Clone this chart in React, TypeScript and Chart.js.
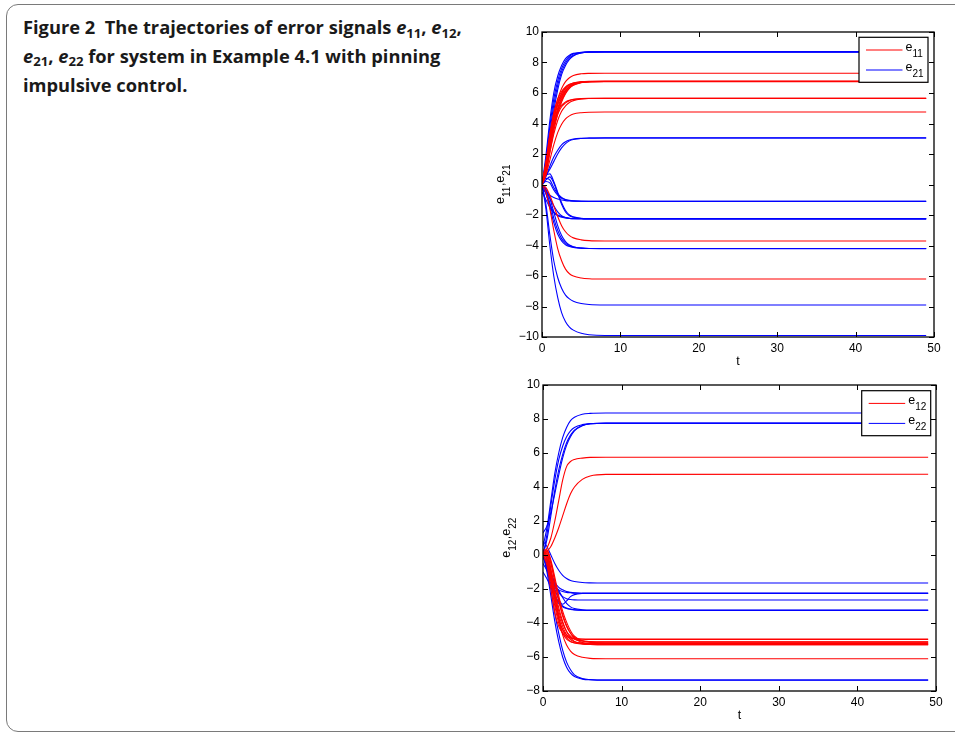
import React, { useEffect, useRef } from 'react';
import { Chart, registerables } from 'chart.js';
Chart.register(...registerables);

// time grid (t) shared by every trajectory
const T = [0, 0.5, 1, 1.5, 2, 2.5, 3, 3.5, 4, 5, 6, 8, 49];

const xTicks = [0, 10, 20, 30, 40, 50];
const yTicksTop = [-10, -8, -6, -4, -2, 0, 2, 4, 6, 8, 10];
const yTicksBottom = [-8, -6, -4, -2, 0, 2, 4, 6, 8, 10];

// e11 trajectories (red, top panel)
const e11 = [
  [0, 1.4, 3.2, 4.6, 5.6, 6.3, 6.75, 7.0, 7.15, 7.26, 7.29, 7.3, 7.3],
  [0, 1.5, 3.3, 4.7, 5.6, 6.1, 6.4, 6.57, 6.66, 6.73, 6.75, 6.75, 6.75],
  [0, 1.2, 2.9, 4.3, 5.3, 5.9, 6.3, 6.5, 6.62, 6.72, 6.75, 6.76, 6.76],
  [0, 1.0, 2.6, 4.0, 5.0, 5.7, 6.15, 6.42, 6.58, 6.71, 6.74, 6.75, 6.75],
  [0, 0.8, 2.3, 3.7, 4.8, 5.5, 6.0, 6.33, 6.52, 6.69, 6.74, 6.76, 6.76],
  [0, 1.3, 3.0, 4.4, 5.4, 6.0, 6.35, 6.55, 6.65, 6.73, 6.76, 6.77, 6.77],
  [0, 0.9, 2.5, 3.9, 4.9, 5.6, 6.1, 6.4, 6.56, 6.7, 6.74, 6.74, 6.74],
  [0.1, 1.1, 2.8, 4.2, 5.2, 5.8, 6.2, 6.45, 6.6, 6.71, 6.75, 6.75, 6.75],
  [0, 0.7, 2.1, 3.5, 4.6, 5.4, 5.95, 6.3, 6.5, 6.68, 6.73, 6.75, 6.75],
  [0, 1.1, 2.6, 3.8, 4.6, 5.1, 5.35, 5.5, 5.57, 5.63, 5.65, 5.65, 5.65],
  [0, 0.8, 2.1, 3.3, 4.2, 4.8, 5.15, 5.38, 5.5, 5.61, 5.64, 5.66, 5.66],
  [0, 1.3, 2.9, 4.0, 4.8, 5.2, 5.42, 5.53, 5.59, 5.63, 5.64, 5.64, 5.64],
  [0, 0.6, 1.6, 2.6, 3.4, 3.95, 4.3, 4.5, 4.62, 4.71, 4.74, 4.75, 4.75],
  [0, -0.2, -0.7, -1.4, -2.1, -2.7, -3.1, -3.35, -3.5, -3.63, -3.68, -3.7, -3.7],
  [0, -0.5, -1.6, -3.0, -4.2, -5.0, -5.55, -5.85, -6.0, -6.13, -6.18, -6.2, -6.2],
];

// e21 trajectories (blue, top panel)
const e21 = [
  [0, 1.6, 3.8, 5.6, 6.8, 7.6, 8.1, 8.4, 8.55, 8.66, 8.7, 8.7, 8.7],
  [0, 1.4, 3.4, 5.2, 6.5, 7.4, 7.95, 8.3, 8.48, 8.63, 8.68, 8.71, 8.71],
  [0, 1.1, 3.0, 4.8, 6.2, 7.2, 7.8, 8.2, 8.43, 8.62, 8.68, 8.7, 8.7],
  [0, 1.9, 4.2, 6.0, 7.1, 7.8, 8.25, 8.48, 8.6, 8.67, 8.7, 8.7, 8.7],
  [0, 0.5, 1.2, 1.8, 2.25, 2.6, 2.8, 2.92, 2.98, 3.03, 3.05, 3.05, 3.05],
  [0.3, 0.6, 1.0, 1.5, 2.0, 2.4, 2.68, 2.86, 2.95, 3.02, 3.04, 3.06, 3.06],
  [0, 0.4, 0.3, -0.2, -0.6, -0.85, -0.98, -1.04, -1.07, -1.1, -1.1, -1.1, -1.1],
  [-0.3, -0.5, -0.7, -0.85, -0.95, -1.02, -1.06, -1.08, -1.09, -1.1, -1.1, -1.1, -1.1],
  [0, 0.2, 0.1, -0.35, -0.7, -0.9, -1.0, -1.05, -1.08, -1.1, -1.11, -1.11, -1.11],
  [0, 0.6, 0.7, 0.2, -0.5, -1.2, -1.7, -2.0, -2.12, -2.22, -2.24, -2.25, -2.25],
  [0, 0.3, 0.5, 0.1, -0.6, -1.3, -1.8, -2.05, -2.15, -2.23, -2.25, -2.25, -2.25],
  [0, -0.4, -0.9, -1.4, -1.8, -2.05, -2.17, -2.22, -2.24, -2.25, -2.25, -2.25, -2.25],
  [0, -0.6, -1.3, -1.8, -2.0, -2.1, -2.17, -2.21, -2.23, -2.25, -2.25, -2.25, -2.25],
  [-0.5, -1.0, -1.5, -1.85, -2.05, -2.15, -2.2, -2.23, -2.24, -2.25, -2.26, -2.26, -2.26],
  [0, -0.4, -1.2, -2.2, -3.0, -3.55, -3.85, -4.02, -4.1, -4.17, -4.2, -4.2, -4.2],
  [0, -0.3, -0.9, -1.8, -2.7, -3.35, -3.75, -3.97, -4.08, -4.17, -4.2, -4.21, -4.21],
  [0, -0.6, -1.5, -2.5, -3.25, -3.7, -3.95, -4.07, -4.13, -4.18, -4.2, -4.2, -4.2],
  [0, -1.3, -3.3, -5.0, -6.1, -6.8, -7.25, -7.5, -7.65, -7.8, -7.87, -7.9, -7.9],
  [0, -1.6, -4.0, -6.0, -7.4, -8.4, -9.0, -9.35, -9.55, -9.76, -9.85, -9.9, -9.9],
];

// e12 trajectories (red, bottom panel)
const e12 = [
  [0, 0.4, 1.0, 2.0, 3.2, 4.4, 5.2, 5.5, 5.62, 5.7, 5.74, 5.75, 5.75],
  [0, 0.2, 0.5, 1.0, 1.6, 2.3, 3.0, 3.6, 4.0, 4.45, 4.65, 4.74, 4.75],
  [0, -0.6, -2.0, -3.4, -4.2, -4.6, -4.8, -4.88, -4.92, -4.94, -4.94, -4.94, -4.94],
  [0.2, -0.2, -1.4, -2.8, -3.8, -4.4, -4.7, -4.85, -4.92, -4.96, -4.97, -4.97, -4.97],
  [0.1, 0.1, -0.9, -2.2, -3.3, -4.0, -4.5, -4.78, -4.95, -5.06, -5.09, -5.1, -5.1],
  [0, 0.2, -0.5, -1.6, -2.7, -3.6, -4.2, -4.6, -4.85, -5.05, -5.1, -5.12, -5.12],
  [0.3, 0.3, -0.3, -1.3, -2.4, -3.3, -3.95, -4.45, -4.78, -5.05, -5.14, -5.16, -5.16],
  [0, -0.4, -1.6, -3.0, -4.0, -4.6, -4.95, -5.1, -5.16, -5.2, -5.2, -5.2, -5.2],
  [0.1, 0.0, -1.1, -2.4, -3.5, -4.2, -4.7, -4.98, -5.1, -5.18, -5.21, -5.22, -5.22],
  [0.2, 0.25, -0.4, -1.5, -2.6, -3.5, -4.15, -4.6, -4.9, -5.15, -5.23, -5.25, -5.25],
  [0, -0.2, -1.3, -2.6, -3.7, -4.4, -4.85, -5.08, -5.18, -5.24, -5.26, -5.27, -5.27],
  [0.1, 0.1, -0.8, -2.0, -3.1, -3.9, -4.5, -4.88, -5.08, -5.22, -5.26, -5.28, -5.28],
  [0, -0.1, -1.0, -2.4, -3.7, -4.7, -5.3, -5.65, -5.85, -6.02, -6.08, -6.1, -6.1],
];

// e22 trajectories (blue, bottom panel)
const e22 = [
  [0.5, 1.6, 3.2, 4.8, 6.0, 6.9, 7.5, 7.9, 8.1, 8.28, 8.33, 8.35, 8.35],
  [0, 0.9, 2.3, 3.8, 5.0, 5.9, 6.6, 7.05, 7.35, 7.62, 7.72, 7.75, 7.75],
  [1.3, 1.7, 2.5, 3.6, 4.7, 5.7, 6.45, 6.95, 7.3, 7.6, 7.72, 7.76, 7.76],
  [0, 1.2, 2.9, 4.4, 5.6, 6.4, 6.95, 7.3, 7.5, 7.67, 7.73, 7.75, 7.75],
  [0.8, 0.5, 0.0, -0.5, -0.9, -1.2, -1.38, -1.5, -1.56, -1.62, -1.64, -1.65, -1.65],
  [0, -0.6, -1.3, -2.0, -2.6, -2.9, -2.7, -2.45, -2.33, -2.26, -2.25, -2.25, -2.25],
  [0, -0.5, -1.1, -1.6, -1.9, -2.05, -2.15, -2.2, -2.23, -2.25, -2.25, -2.25, -2.25],
  [-0.5, -0.9, -1.4, -1.8, -2.05, -2.15, -2.2, -2.22, -2.24, -2.25, -2.26, -2.26, -2.26],
  [0.3, -0.3, -1.0, -1.7, -2.2, -2.45, -2.57, -2.62, -2.64, -2.65, -2.65, -2.65, -2.65],
  [0, -0.6, -1.3, -1.9, -2.1, -2.5, -2.85, -3.05, -3.15, -3.22, -3.25, -3.25, -3.25],
  [0, -0.8, -1.7, -2.4, -2.85, -3.05, -3.15, -3.2, -3.23, -3.25, -3.25, -3.25, -3.25],
  [-1.0, -1.4, -1.9, -2.4, -2.75, -3.0, -3.12, -3.18, -3.22, -3.25, -3.26, -3.26, -3.26],
  [0, -1.0, -2.4, -3.9, -5.1, -6.0, -6.6, -6.95, -7.15, -7.3, -7.34, -7.35, -7.35],
  [0, -0.8, -2.0, -3.4, -4.6, -5.6, -6.3, -6.75, -7.05, -7.27, -7.33, -7.36, -7.36],
];

const RED = '#ff0000';
const BLUE = '#0000ff';
const FONT = '"Liberation Sans", Arial, Helvetica, sans-serif';

type Part = { t: string; sub?: boolean };

function drawParts(ctx: CanvasRenderingContext2D, parts: Part[], x: number, y: number, center: boolean) {
  const main = `12.5px ${FONT}`;
  const small = `10px ${FONT}`;
  let w = 0;
  parts.forEach((p) => {
    ctx.font = p.sub ? small : main;
    w += ctx.measureText(p.t).width;
  });
  let cx = center ? x - w / 2 : x;
  parts.forEach((p) => {
    ctx.font = p.sub ? small : main;
    ctx.fillText(p.t, cx, y + (p.sub ? 5.5 : 0));
    cx += ctx.measureText(p.t).width + (p.sub ? 0.5 : 0);
  });
}

const decoPlugin = {
  id: 'deco',
  afterDraw(chart: any, _args: any, opts: any) {
    const { ctx, chartArea: a } = chart;
    const xs = chart.scales.x;
    const ys = chart.scales.y;
    ctx.save();
    ctx.strokeStyle = '#000';
    ctx.lineWidth = 1;
    const L = 5;
    ctx.beginPath();
    xs.ticks.forEach((t: any) => {
      const p = Math.round(xs.getPixelForValue(t.value)) + 0.5;
      ctx.moveTo(p, a.bottom);
      ctx.lineTo(p, a.bottom - L);
      ctx.moveTo(p, a.top);
      ctx.lineTo(p, a.top + L);
    });
    ys.ticks.forEach((t: any) => {
      const p = Math.round(ys.getPixelForValue(t.value)) + 0.5;
      ctx.moveTo(a.left, p);
      ctx.lineTo(a.left + L, p);
      ctx.moveTo(a.right, p);
      ctx.lineTo(a.right - L, p);
    });
    ctx.stroke();
    ctx.lineWidth = 1.3;
    ctx.strokeRect(a.left, a.top, a.right - a.left, a.bottom - a.top);

    // legend
    const bw = 69;
    const bh = 45;
    const bx = a.right - opts.legendRight - bw;
    const by = a.top + opts.legendTop;
    ctx.fillStyle = '#fff';
    ctx.fillRect(bx, by, bw, bh);
    ctx.lineWidth = 1.2;
    ctx.strokeStyle = '#000';
    ctx.strokeRect(bx, by, bw, bh);
    ctx.textBaseline = 'alphabetic';
    ctx.textAlign = 'left';
    opts.legend.forEach((it: any, i: number) => {
      const ly = by + 12.7 + i * 20;
      ctx.strokeStyle = it.color;
      ctx.lineWidth = 1;
      ctx.beginPath();
      ctx.moveTo(bx + 7, ly);
      ctx.lineTo(bx + 43.5, ly);
      ctx.stroke();
      ctx.fillStyle = '#000';
      drawParts(ctx, [{ t: 'e' }, { t: it.sub, sub: true }], bx + 46.5, ly + 1, false);
    });

    // y title
    ctx.save();
    ctx.translate(opts.yTitleX, (a.top + a.bottom) / 2);
    ctx.rotate(-Math.PI / 2);
    ctx.fillStyle = '#000';
    drawParts(ctx, opts.yTitle, 0, 0, true);
    ctx.restore();

    // x title
    ctx.fillStyle = '#000';
    ctx.textAlign = 'center';
    ctx.textBaseline = 'middle';
    ctx.font = `12.5px ${FONT}`;
    ctx.fillText('t', (a.left + a.right) / 2, opts.xTitleY);
    ctx.restore();
  },
};

function makeSets(red: number[][], blue: number[][]) {
  const mk = (vals: number[], color: string, label: string) => ({
    label,
    data: T.map((t, i) => ({ x: t, y: vals[i] })),
    borderColor: color,
    borderWidth: 1.1,
    pointRadius: 0,
    fill: false,
    cubicInterpolationMode: 'monotone' as const,
  });
  return [...red.map((v) => mk(v, RED, 'r')), ...blue.map((v) => mk(v, BLUE, 'b'))];
}

type PanelProps = {
  red: number[][];
  blue: number[][];
  yMin: number;
  yMax: number;
  yTicks: number[];
  padTop: number;
  padRight: number;
  yWidth: number;
  xHeight: number;
  legendRight: number;
  legendTop: number;
  legend: { color: string; sub: string }[];
  yTitle: Part[];
  yTitleX: number;
  xTitleY: number;
  width: number;
  height: number;
  left: number;
  top: number;
};

function Panel(p: PanelProps) {
  const ref = useRef<HTMLCanvasElement>(null);
  useEffect(() => {
    if (!ref.current) return;
    const fmt = (v: any) => String(v).replace('-', '\u2212');
    const chart = new Chart(ref.current, {
      type: 'line',
      data: { datasets: makeSets(p.red, p.blue) as any },
      plugins: [decoPlugin as any],
      options: {
        animation: false,
        responsive: false,
        maintainAspectRatio: false,
        layout: { padding: { top: p.padTop, right: p.padRight, left: 0, bottom: 0 } },
        plugins: {
          legend: { display: false },
          tooltip: { enabled: false },
          deco: {
            legendRight: p.legendRight,
            legendTop: p.legendTop,
            legend: p.legend,
            yTitle: p.yTitle,
            yTitleX: p.yTitleX,
            xTitleY: p.xTitleY,
          },
        } as any,
        scales: {
          x: {
            type: 'linear',
            min: 0,
            max: 50,
            afterBuildTicks: (s: any) => {
              s.ticks = xTicks.map((v) => ({ value: v }));
            },
            afterFit: (s: any) => {
              s.height = p.xHeight;
            },
            grid: { display: false, drawTicks: false },
            border: { display: false },
            ticks: {
              padding: 4,
              color: '#000',
              maxRotation: 0,
              font: { family: FONT, size: 12 },
              callback: fmt,
            },
          },
          y: {
            type: 'linear',
            min: p.yMin,
            max: p.yMax,
            afterBuildTicks: (s: any) => {
              s.ticks = p.yTicks.map((v) => ({ value: v }));
            },
            afterFit: (s: any) => {
              s.width = p.yWidth;
            },
            grid: { display: false, drawTicks: false },
            border: { display: false },
            ticks: {
              padding: 3,
              color: '#000',
              font: { family: FONT, size: 12 },
              callback: fmt,
            },
          },
        },
      },
    });
    return () => chart.destroy();
  }, []);
  return (
    <canvas
      ref={ref}
      width={p.width}
      height={p.height}
      style={{ position: 'absolute', left: p.left, top: p.top, width: p.width, height: p.height }}
    />
  );
}

const subStyle: React.CSSProperties = {
  fontSize: '0.72em',
  verticalAlign: 'baseline',
  position: 'relative',
  top: '0.28em',
  fontStyle: 'normal',
};

function E({ s }: { s: string }) {
  return (
    <span>
      <i>e</i>
      <span style={subStyle}>{s}</span>
    </span>
  );
}

export default function App() {
  return (
    <div
      style={{
        position: 'absolute',
        left: 0,
        top: 0,
        width: 955,
        height: 732,
        overflow: 'hidden',
        background: '#fff',
      }}
    >
      <div
        style={{
          position: 'absolute',
          left: 6,
          top: 4,
          width: 1100,
          height: 726,
          border: '1.5px solid #7a7a7a',
          borderRadius: 12,
        }}
      />
      <div
        style={{
          position: 'absolute',
          left: 23,
          top: 14,
          fontFamily: '"Open Sans", Lato, sans-serif',
          fontWeight: 700,
          fontSize: 18.3,
          lineHeight: '25.8px',
          color: '#1a1a1a',
          whiteSpace: 'nowrap',
        }}
      >
        Figure 2&nbsp;&nbsp;The trajectories of error signals <E s="11" />, <E s="12" />,
        <br />
        <E s="21" />, <E s="22" /> for system in Example 4.1 with pinning
        <br />
        impulsive control.
      </div>
      <Panel
        red={e11}
        blue={e21}
        yMin={-10}
        yMax={10}
        yTicks={yTicksTop}
        padTop={12}
        padRight={21}
        yWidth={52}
        xHeight={33}
        legendRight={6}
        legendTop={5.3}
        legend={[
          { color: RED, sub: '11' },
          { color: BLUE, sub: '21' },
        ]}
        yTitle={[{ t: 'e' }, { t: '11', sub: true }, { t: ',' }, { t: 'e' }, { t: '21', sub: true }]}
        yTitleX={14}
        xTitleY={342}
        width={465}
        height={350}
        left={490}
        top={20}
      />
      <Panel
        red={e12}
        blue={e22}
        yMin={-8}
        yMax={10}
        yTicks={yTicksBottom}
        padTop={15}
        padRight={19}
        yWidth={53}
        xHeight={41}
        legendRight={5.3}
        legendTop={5.7}
        legend={[
          { color: RED, sub: '12' },
          { color: BLUE, sub: '22' },
        ]}
        yTitle={[{ t: 'e' }, { t: '12', sub: true }, { t: ',' }, { t: 'e' }, { t: '22', sub: true }]}
        yTitleX={20}
        xTitleY={346}
        width={465}
        height={362}
        left={490}
        top={370}
      />
    </div>
  );
}
